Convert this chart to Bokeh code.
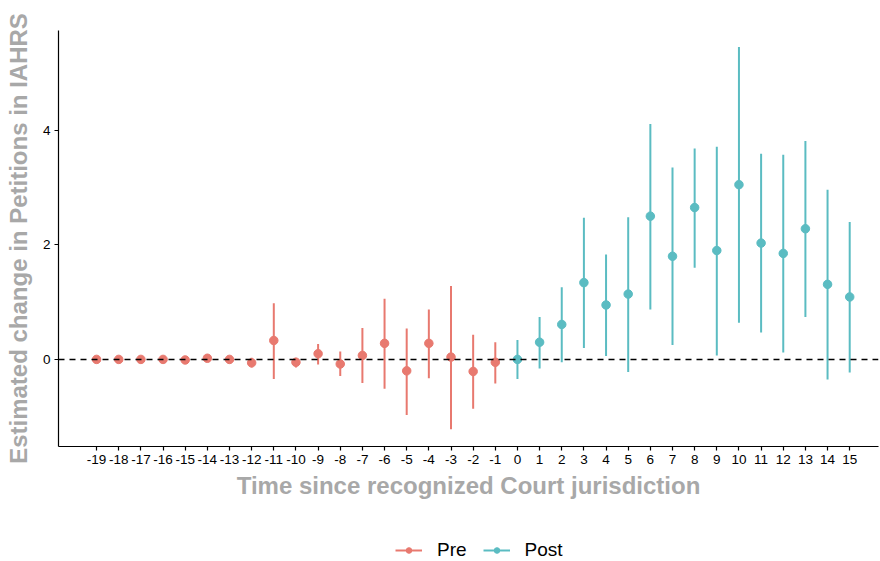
from bokeh.plotting import figure
from bokeh.layouts import column
from bokeh.models import (ColumnDataSource, Range1d, FixedTicker, Span,
                          Legend, LegendItem)
from bokeh.embed import file_html
from bokeh.resources import INLINE

# Event-study estimates: periods relative to recognition of Court jurisdiction
pre_period = [-19, -18, -17, -16, -15, -14, -13, -12, -11, -10,
              -9, -8, -7, -6, -5, -4, -3, -2, -1]
pre_estimate = [0.00, 0.00, 0.00, 0.00, -0.01, 0.02, 0.00, -0.06, 0.33, -0.05,
                0.10, -0.08, 0.07, 0.28, -0.20, 0.28, 0.04, -0.21, -0.05]
pre_lower = [-0.01, -0.01, -0.01, -0.01, -0.02, 0.00, -0.01, -0.14, -0.34, -0.14,
             -0.09, -0.29, -0.41, -0.51, -0.97, -0.33, -1.22, -0.86, -0.42]
pre_upper = [0.01, 0.01, 0.01, 0.01, 0.00, 0.04, 0.01, 0.03, 0.98, 0.03,
             0.27, 0.14, 0.55, 1.06, 0.54, 0.87, 1.28, 0.43, 0.30]

post_period = [0, 1, 2, 3, 4, 5, 6, 7, 8, 9, 10, 11, 12, 13, 14, 15]
post_estimate = [0.00, 0.30, 0.61, 1.34, 0.95, 1.14, 2.50, 1.80, 2.65, 1.90,
                 3.05, 2.03, 1.85, 2.28, 1.31, 1.09]
post_lower = [-0.34, -0.16, -0.05, 0.20, 0.06, -0.22, 0.87, 0.25, 1.60, 0.07,
              0.64, 0.47, 0.12, 0.74, -0.35, -0.23]
post_upper = [0.34, 0.74, 1.26, 2.47, 1.83, 2.48, 4.11, 3.35, 3.68, 3.71,
              5.45, 3.59, 3.57, 3.81, 2.96, 2.40]

x_ticks = pre_period + post_period
x_tick_labels = [str(t) for t in x_ticks]
y_ticks = [0, 2, 4]
y_tick_labels = ["0", "2", "4"]
group_labels = ["Pre", "Post"]

PRE_COLOR = "#E8796F"
POST_COLOR = "#5BBCC2"
FONT = "Liberation Sans"
TITLE_GREY = "#A8A8A8"

p = figure(width=880, height=520, output_backend="svg", toolbar_location=None,
           x_range=Range1d(-20.72, 16.3), y_range=Range1d(-1.52, 5.74),
           min_border_left=58, min_border_right=2, min_border_top=30,
           min_border_bottom=74)
p.outline_line_color = None
p.xgrid.visible = False
p.ygrid.visible = False
p.background_fill_color = "white"
p.border_fill_color = "white"

# Reference line at zero
p.add_layout(Span(location=0, dimension="width", line_color="black",
                  line_width=1.5, line_dash="6 5"))

pre_src = ColumnDataSource(dict(x=pre_period, y=pre_estimate,
                                lo=pre_lower, hi=pre_upper))
post_src = ColumnDataSource(dict(x=post_period, y=post_estimate,
                                 lo=post_lower, hi=post_upper))

p.segment(x0="x", y0="lo", x1="x", y1="hi", source=pre_src,
          line_color=PRE_COLOR, line_width=2)
p.scatter(x="x", y="y", source=pre_src, size=8.5,
          fill_color=PRE_COLOR, line_color=PRE_COLOR)
p.segment(x0="x", y0="lo", x1="x", y1="hi", source=post_src,
          line_color=POST_COLOR, line_width=2)
p.scatter(x="x", y="y", source=post_src, size=8.5,
          fill_color=POST_COLOR, line_color=POST_COLOR)

# Axes in a classic style: only the left and bottom lines
for ax in (p.xaxis[0], p.yaxis[0]):
    ax.axis_line_color = "black"
    ax.axis_line_width = 1.2
    ax.major_tick_line_color = "black"
    ax.major_tick_line_width = 1.2
    ax.major_tick_out = 4
    ax.major_tick_in = 0
    ax.minor_tick_line_color = None
    ax.major_label_text_font = FONT
    ax.major_label_text_font_size = "13.5px"
    ax.major_label_text_color = "black"
    ax.axis_label_text_font = FONT
    ax.axis_label_text_font_style = "bold"
    ax.axis_label_text_font_size = "24px"
    ax.axis_label_text_color = TITLE_GREY
    ax.major_label_standoff = 4

p.xaxis.ticker = FixedTicker(ticks=x_ticks)
p.xaxis.major_label_overrides = dict(zip(x_ticks, x_tick_labels))
p.xaxis.axis_label = "Time since recognized Court jurisdiction"
p.xaxis.axis_label_standoff = 5

p.yaxis.ticker = FixedTicker(ticks=y_ticks)
p.yaxis.major_label_overrides = dict(zip(y_ticks, y_tick_labels))
p.yaxis.axis_label = "Estimated change in Petitions in IAHRS"
p.yaxis.axis_label_standoff = 8

# Legend row underneath the chart
leg = figure(width=880, height=41, output_backend="svg", toolbar_location=None,
             x_range=Range1d(0, 1), y_range=Range1d(0, 1),
             x_axis_location=None, y_axis_location=None,
             min_border=0, min_border_left=0, min_border_right=0,
             min_border_top=0, min_border_bottom=0)
leg.outline_line_color = None
leg.xgrid.visible = False
leg.ygrid.visible = False
leg.border_fill_color = "white"

key_src = ColumnDataSource(dict(x=[-5], y=[-5]))
items = []
for name, color in zip(group_labels, [PRE_COLOR, POST_COLOR]):
    bar = leg.segment(x0="x", y0="y", x1="x", y1="y", source=key_src,
                      line_color=color, line_width=2)
    dot = leg.scatter(x="x", y="y", source=key_src, size=8.5,
                      fill_color=color, line_color=color)
    items.append(LegendItem(label=name, renderers=[bar, dot]))

legend = Legend(items=items, orientation="horizontal", location=(337, 0),
                glyph_width=27, glyph_height=14, label_height=14,
                label_standoff=15, spacing=16, padding=0, margin=0,
                border_line_color=None, background_fill_alpha=0,
                label_text_font=FONT, label_text_font_size="19px",
                label_text_color="black")
leg.add_layout(legend, "center")

page = column(p, leg, spacing=0)
open("out.html", "w").write(file_html(page, INLINE))
